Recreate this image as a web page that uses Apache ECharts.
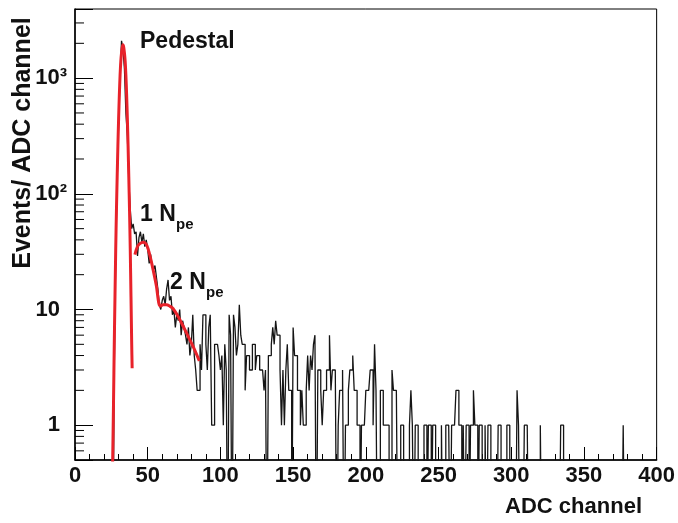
<!DOCTYPE html>
<html><head><meta charset="utf-8">
<script src="https://cdn.jsdelivr.net/npm/echarts@6.0.0/dist/echarts.min.js"></script>
<style>html,body{margin:0;padding:0;background:#fff}#c{width:678px;height:523px}</style>
</head><body><div id="c"></div>
<script>
// Histogram counts, one per ADC channel bin [c, c+1), c = 0..399
const counts = [
  0,0,0,0,0,0,0,0,0,0,
  0,0,0,0,0,0,0,0,0,0,
  0,0,0,0,0,0,0,3,30,130,
  420,1050,2100,1800,1200,500,315,132,73,50,
  55,45,47,29,42,47,38,45,35,40,
  33,25,30,24,22,24,19,15,11,10,
  12,13,11,15,18,12,13,9,10,7,
  9,8,10,6,8,7,6,5,7,4,
  5,9,4,3,2,2,5,3,9,9,
  5,3,7,9,1,1,5,5,5,4,
  3,4,1,5,3,0,9,6,0,9,
  7,4,5,11,6,5,5,2,4,4,
  3,3,5,5,3,4,4,3,3,3,
  2,3,0,4,4,5,7,5,8,6,
  6,3,1,3,1,3,5,2,2,0,
  7,4,4,2,2,1,2,1,1,2,
  4,2,4,3,5,6,0,3,3,2,
  1,2,2,3,3,6,2,3,3,3,
  0,1,2,2,3,0,1,1,2,3,
  3,4,2,2,1,1,0,1,1,1,
  2,2,2,3,3,1,5,2,0,0,
  2,2,1,1,1,1,0,0,3,2,
  2,2,0,0,1,1,0,0,0,0,
  1,2,1,0,1,1,0,0,0,0,
  1,1,0,1,1,0,1,1,0,0,
  0,0,1,0,0,1,1,1,0,1,
  1,1,2,2,1,1,0,1,0,1,
  1,0,1,1,2,1,1,0,1,1,
  0,0,1,0,1,1,0,0,0,0,
  0,1,1,0,0,0,0,1,1,0,
  0,0,0,0,2,1,0,0,0,1,
  1,1,0,0,0,0,0,0,0,0,
  1,0,0,0,0,0,0,0,0,0,
  0,0,0,0,1,1,0,0,0,0,
  0,0,0,0,0,0,0,0,0,0,
  0,0,0,0,0,0,0,0,0,0,
  0,0,0,0,0,0,0,0,0,0,
  0,0,0,0,0,0,0,1,0,0,
  0,0,0,0,0,0,0,0,0,0,
  0,0,0,0,0,0,0,0,0,0
];

// Pedestal fit curve
const pedFitX = [25.8, 26.5, 27, 27.5, 28, 28.5, 29, 29.5, 30, 30.5, 31, 31.5, 32, 32.5, 33, 33.5, 34, 34.5, 35, 35.5, 36, 36.5, 37, 37.5, 38, 38.5, 39, 39.3];
const pedFitY = [0.4, 1.6, 5, 13, 33, 72, 140, 260, 450, 720, 1060, 1400, 1650, 1850, 1940, 1850, 1650, 1400, 1060, 720, 450, 260, 140, 72, 33, 13, 5, 3.1];

// 1 Npe + 2 Npe fit curve
const npeFitX = [41.2, 42.8, 44.6, 46.9, 48.7, 50.3, 51.9, 53.7, 56.0, 57.6, 58.8, 60.6, 62.9, 65.2, 67.4, 70.9, 74.3, 77.7, 81.2, 85.5];
const npeFitY = [29.8, 34.7, 37.1, 38.2, 37.1, 33.4, 27.9, 22.1, 15.9, 11.4, 10.7, 11.0, 11.0, 10.7, 10.2, 8.7, 7.2, 5.9, 4.8, 3.6];

// Axis ticks
const yTickValues = [1, 10, 100, 1000];
const yTickLabels = ['1', '10', '10\u00B2', '10\u00B3'];
const yMinorTicks = [0.6, 0.7, 0.8, 0.9, 2, 3, 4, 5, 6, 7, 8, 9, 20, 30, 40, 50, 60, 70, 80, 90,
                     200, 300, 400, 500, 600, 700, 800, 900, 2000, 3000];
const xMin = 0, xMax = 400, xStep = 50;
const yMin = 0.5, yMax = 3960;

const FONT = '"Liberation Sans", Arial, Helvetica, sans-serif';
const INK = '#111';

const histData = counts.map((v, i) => [i, v > 0 ? v : 0.05]);
histData.push([counts.length, counts[counts.length - 1] > 0 ? counts[counts.length - 1] : 0.05]);

const chart = echarts.init(document.getElementById('c'), null, {renderer: 'canvas'});
chart.setOption({
  animation: false,
  backgroundColor: '#fff',
  grid: {left: 75, right: 20, top: 9, bottom: 63, show: true, borderColor: '#000', borderWidth: 1, backgroundColor: 'transparent'},
  xAxis: {
    type: 'value', min: xMin, max: xMax, interval: xStep,
    axisLine: {show: true, onZero: false, lineStyle: {color: '#000', width: 1.5}},
    axisTick: {show: true, inside: true, length: 13, lineStyle: {color: '#000', width: 1}},
    minorTick: {show: true, splitNumber: 5, length: 6, lineStyle: {color: '#000', width: 1}},
    splitLine: {show: false}, minorSplitLine: {show: false},
    axisLabel: {fontFamily: FONT, fontWeight: 'bold', fontSize: 22, color: INK, margin: 5}
  },
  yAxis: {
    type: 'log', logBase: 10, min: yMin, max: yMax,
    axisLine: {show: true, onZero: false, lineStyle: {color: '#000', width: 1.5}},
    axisTick: {show: true, inside: true, length: 18, lineStyle: {color: '#000', width: 1}},
    splitLine: {show: false},
    axisLabel: {
      margin: 8,
      formatter: function (v) {
        const idx = yTickValues.findIndex(t => Math.abs(t - v) / t < 1e-6);
        if (idx < 0) return '';
        const t = yTickLabels[idx];
        return /[\u00B2\u00B3]/.test(t) ? '{m|' + t + '}' : '{m|' + t + '}{g| }';
      },
      rich: {
        m: {fontFamily: FONT, fontWeight: 'bold', fontSize: 22, color: INK},
        g: {width: 7, fontSize: 22}
      }
    }
  },
  series: [
    {
      type: 'line', step: 'end', data: histData, showSymbol: false, clip: true,
      lineStyle: {color: '#151515', width: 1.3}, z: 2, silent: true
    },
    {
      type: 'line', smooth: 0.3, showSymbol: false, clip: true,
      data: pedFitX.map((x, i) => [x, pedFitY[i]]),
      lineStyle: {color: '#e8222a', width: 3}, z: 3, silent: true
    },
    {
      type: 'line', smooth: 0.3, showSymbol: false, clip: true,
      data: npeFitX.map((x, i) => [x, npeFitY[i]]),
      lineStyle: {color: '#e8222a', width: 3}, z: 3, silent: true
    },
    {
      type: 'custom', silent: true, z: 4,
      data: yMinorTicks.map(v => [xMin, v]),
      encode: {x: 0, y: 1},
      renderItem: function (params, api) {
        const p = api.coord([api.value(0), api.value(1)]);
        return {type: 'line', shape: {x1: p[0], y1: p[1], x2: p[0] + 9, y2: p[1]},
                style: {stroke: '#000', lineWidth: 1}};
      }
    }
  ],
  graphic: [
    {type: 'text', x: 140, y: 42, style: {text: 'Pedestal', font: 'bold 23px ' + FONT, fill: INK, textAlign: 'left', textVerticalAlign: 'middle', align: 'left', verticalAlign: 'middle'}},
    {type: 'text', x: 140, y: 215, style: {text: '1 N', font: 'bold 23px ' + FONT, fill: INK, textAlign: 'left', textVerticalAlign: 'middle', align: 'left', verticalAlign: 'middle'}},
    {type: 'text', x: 176, y: 225, style: {text: 'pe', font: 'bold 15px ' + FONT, fill: INK, textAlign: 'left', textVerticalAlign: 'middle', align: 'left', verticalAlign: 'middle'}},
    {type: 'text', x: 170, y: 283, style: {text: '2 N', font: 'bold 23px ' + FONT, fill: INK, textAlign: 'left', textVerticalAlign: 'middle', align: 'left', verticalAlign: 'middle'}},
    {type: 'text', x: 206, y: 293, style: {text: 'pe', font: 'bold 15px ' + FONT, fill: INK, textAlign: 'left', textVerticalAlign: 'middle', align: 'left', verticalAlign: 'middle'}},
    {type: 'text', x: 642, y: 507, style: {text: 'ADC channel', font: 'bold 22px ' + FONT, fill: INK, textAlign: 'right', textVerticalAlign: 'middle', align: 'right', verticalAlign: 'middle'}},
    {type: 'text', x: 23, y: 143, rotation: Math.PI / 2, style: {text: 'Events/ ADC channel', font: 'bold 25px ' + FONT, fill: INK, textAlign: 'center', textVerticalAlign: 'middle', align: 'center', verticalAlign: 'middle'}}
  ]
});
</script>
</body></html>
